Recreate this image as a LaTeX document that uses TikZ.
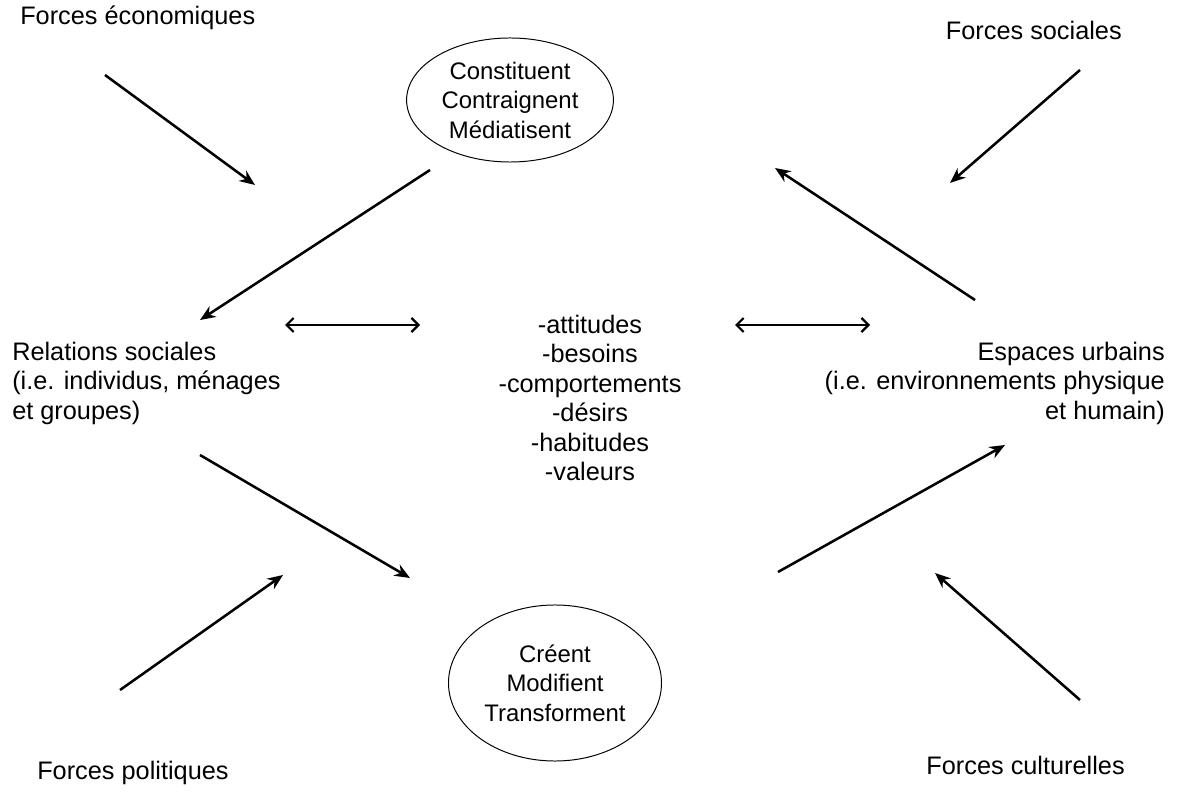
\documentclass[tikz,border=0pt]{standalone}
\usepackage{fontspec}
\setmainfont{Liberation Sans}
\usetikzlibrary{positioning,arrows.meta,shapes.geometric}
\tikzstyle{txt} = [font=\fontsize{18}{21}\selectfont, inner sep=0pt]
\tikzstyle{verbe} = [ellipse, draw=black, line width=0.7pt, minimum width=5cm, minimum height=3.1cm, align=center, font=\fontsize{17}{21}\selectfont]
\tikzstyle{arrow} = [line width=1.8pt,-{Stealth[length=11pt,width=9pt]}]
\tikzstyle{arrow2} = [line width=1.6pt,{Straight Barb[length=5pt,width=10pt]}-{Straight Barb[length=5pt,width=10pt]}]

\begin{document}
\begin{tikzpicture}[x=0.025cm,y=-0.025cm]
\useasboundingbox (0,0) rectangle (1179,800);
 \node (eco) [txt,anchor=west] at (20,18) {Forces économiques};
 \node (soc) [txt,anchor=east] at (1122,30) {Forces sociales};
 \node (pol) [txt,anchor=west] at (37,773) {Forces politiques};
 \node (cul) [txt,anchor=east] at (1125,765) {Forces culturelles};
 \node (haut) [verbe] at (510,100) {Constituent\\Contraignent\\Médiatisent};
 \node (bas) [verbe,minimum width=5.1cm,minimum height=3.9cm] at (555,683) {Créent\\Modifient\\Transforment};
 \node (rel) [txt,anchor=west,align=left] at (12,383) {Relations sociales\\(i.e. individus, ménages\\et groupes)};
 \node (esp) [txt,anchor=east,align=right] at (1165,383) {Espaces urbains\\(i.e. environnements physique\\et humain)};
 \node (mil) [txt,align=center] at (590,398) {-attitudes\\-besoins\\-comportements\\-désirs\\-habitudes\\-valeurs};
% extremites des fleches
\coordinate (e1) at (105,75); \coordinate (e2) at (255,185);
\coordinate (s1) at (1080,70); \coordinate (s2) at (950,183);
\coordinate (h1) at (430,170); \coordinate (r1) at (200,320);
\coordinate (u1) at (975,300); \coordinate (h2) at (775,168);
\coordinate (r2) at (200,455); \coordinate (b1) at (410,578);
\coordinate (b2) at (778,572); \coordinate (u2) at (1005,445);
\coordinate (p1) at (120,690); \coordinate (p2) at (283,575);
\coordinate (c1) at (1080,700); \coordinate (c2) at (935,573);
\coordinate (g1) at (285,325); \coordinate (g2) at (420,325);
\coordinate (d1) at (735,325); \coordinate (d2) at (870,325);
\draw [arrow] (e1) -- (e2);
\draw [arrow] (s1) -- (s2);
\draw [arrow] (h1) -- (r1);
\draw [arrow] (u1) -- (h2);
\draw [arrow] (r2) -- (b1);
\draw [arrow] (b2) -- (u2);
\draw [arrow] (p1) -- (p2);
\draw [arrow] (c1) -- (c2);
\draw [arrow2] (g1) -- (g2);
\draw [arrow2] (d1) -- (d2);
\end{tikzpicture}
\end{document}
